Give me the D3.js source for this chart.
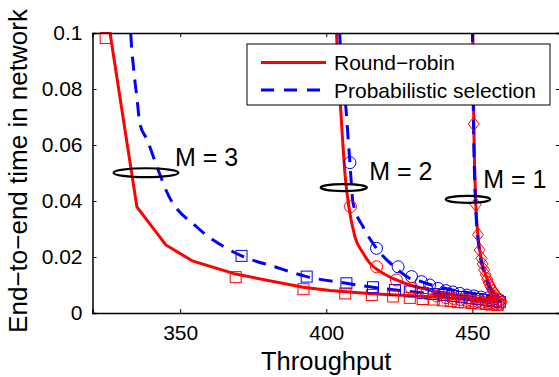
<!DOCTYPE html>
<html>
<head>
<meta charset="utf-8">
<script src="https://cdn.jsdelivr.net/npm/d3@7"></script>
<style>
  body { margin: 0; background: #fff; }
  text { font-family: "Liberation Sans", Arial, Helvetica, sans-serif; }
</style>
</head>
<body>
<div id="chart"></div>
<script>
// ---- data ----
let seriesNames = ["Round\u2212robin", "Probabilistic selection"];
let xTicks = [350, 400, 450];
let yTicks = [0, 0.02, 0.04, 0.06, 0.08, 0.1];
let yTickLabels = ["0", "0.02", "0.04", "0.06", "0.08", "0.1"];

// M = 3, lines and square markers
let rrLineM3 = [[325.5, 0.1034], [335.2, 0.0379], [345.1, 0.0243], [354.2, 0.0186], [369.0, 0.0139],
    [392.1, 0.0092], [401.3, 0.0080], [415.6, 0.0069], [435.4, 0.0058], [448.0, 0.0049], [460.0, 0.0040]];
let rrMarkM3 = [[324.5, 0.0982], [369.0, 0.0128], [392.2, 0.0085], [406.5, 0.0070], [415.6, 0.0064],
    [422.9, 0.0059], [428.6, 0.0054], [433.0, 0.0050], [436.8, 0.0048], [439.9, 0.0045], [442.6, 0.0043],
    [445.0, 0.0039], [447.4, 0.0038], [449.8, 0.0036], [452.2, 0.0034], [454.6, 0.0032], [456.6, 0.0030], [458.7, 0.0029]];
let psLineM3 = [[332.8, 0.108], [333.1, 0.1], [334.0, 0.088], [335.3, 0.076], [336.2, 0.0677], [338.7, 0.0618],
    [342.5, 0.051], [345.4, 0.0433], [355.6, 0.0308], [365.9, 0.0231], [371.0, 0.0204], [382.4, 0.0165],
    [393.3, 0.0130], [406.9, 0.0106], [416.0, 0.0092], [428.6, 0.0077], [440.2, 0.0064], [449.1, 0.0054], [460.0, 0.0039]];
let psMarkM3 = [[371.0, 0.0204], [393.3, 0.0130], [406.9, 0.0106], [416.0, 0.0092], [423.5, 0.0082], [428.6, 0.0077],
    [433.0, 0.0071], [436.8, 0.0068], [440.2, 0.0064], [443.3, 0.0061], [446.4, 0.0057], [449.1, 0.0054],
    [451.8, 0.0050], [454.6, 0.0046], [457.0, 0.0043], [459.4, 0.0039]];

// M = 2, lines and circle markers
let rrLineM2 = [[403.2, 0.108], [403.5, 0.1], [404.9, 0.0736], [406.6, 0.0475], [407.7, 0.0382], [409.8, 0.0273],
    [412.6, 0.0214], [414.9, 0.0178], [419.3, 0.0143], [424.0, 0.0118], [428.6, 0.0100], [435.4, 0.0082],
    [442.3, 0.0068], [449.1, 0.0057], [455.9, 0.0046], [460.0, 0.0039]];
let rrMarkM2 = [[408.3, 0.0380], [417.2, 0.0165], [424.0, 0.0118], [429.2, 0.0088], [434.3, 0.0070], [437.8, 0.0061],
    [440.9, 0.0055], [443.6, 0.0052], [446.0, 0.0048], [448.1, 0.0045], [450.1, 0.0043], [451.8, 0.0041],
    [453.5, 0.0039], [455.3, 0.0038], [456.6, 0.0036], [458.0, 0.0034], [459.4, 0.0032]];
let psLineM2 = [[404.3, 0.108], [404.6, 0.1], [406.7, 0.0736], [408.1, 0.0537], [409.2, 0.0392], [412.6, 0.0308],
    [417.2, 0.0231], [423.8, 0.0161], [428.6, 0.0124], [432.6, 0.0112], [436.0, 0.0100], [442.3, 0.0084],
    [449.1, 0.0071], [455.9, 0.0057], [460.0, 0.0050]];
let psMarkM2 = [[408.1, 0.0537], [417.2, 0.0231], [424.6, 0.0165], [429.2, 0.0130], [432.6, 0.0112], [435.4, 0.0100],
    [438.3, 0.0088], [440.9, 0.0080], [443.3, 0.0075], [445.7, 0.0070], [448.1, 0.0064], [450.5, 0.0061],
    [452.9, 0.0057], [455.3, 0.0054], [457.3, 0.0050], [459.4, 0.0046]];

// M = 1, lines and diamond markers
let rrLineM1 = [[450.05, 0.11], [450.5, 0.0675], [451.2, 0.0387], [451.9, 0.0280], [452.5, 0.0225], [453.5, 0.0175],
    [454.6, 0.0136], [455.6, 0.0107], [456.6, 0.0086], [457.6, 0.0070], [458.7, 0.0055], [459.7, 0.0045], [460.1, 0.0039]];
let rrMarkM1 = [[450.47, 0.0675], [451.16, 0.0387], [451.94, 0.0280], [452.52, 0.0225], [453.10, 0.0195],
    [453.55, 0.0175], [454.06, 0.0154], [454.57, 0.0136], [455.09, 0.0121], [455.60, 0.0107], [456.11, 0.0096],
    [456.63, 0.0086], [457.14, 0.0077], [457.65, 0.0070], [458.17, 0.0063], [458.68, 0.0055], [459.19, 0.0050],
    [459.71, 0.0045], [460.05, 0.0039]];
let psLineM1 = [[449.95, 0.11], [450.4, 0.0675], [451.1, 0.0390], [452.4, 0.0225], [453.9, 0.0150],
    [455.9, 0.0090], [458.3, 0.0055], [460.0, 0.0042]];

// annotations: ellipse centre / radii and label anchors, in data units
let groupLabels = ["M = 3", "M = 2", "M = 1"];
let ellipseCentres = [[338.3, 0.0501], [406.0, 0.0448], [448.5, 0.0406]];
let ellipseRadii = [[11.1, 0.0016], [7.9, 0.00125], [7.6, 0.00125]];
let labelAnchors = [[348.2, 0.0525], [414.7, 0.0475], [453.7, 0.0446]];

// ---- layout ----
let width = 559, height = 377;
let plot = {left: 92.5, right: 560, top: 33, bottom: 313};

let x = d3.scaleLinear().domain([320, 480]).range([plot.left, plot.right]);
let y = d3.scaleLinear().domain([0, 0.1]).range([plot.bottom, plot.top]);

let red = "#ff0000", blue = "#0000ff";

let svg = d3.select("#chart").append("svg")
    .attr("width", width)
    .attr("height", height);

svg.append("clipPath").attr("id", "clip")
    .append("rect")
    .attr("x", plot.left).attr("y", plot.top)
    .attr("width", plot.right - plot.left).attr("height", plot.bottom - plot.top);

let line = d3.line()
    .x(d => x(d[0]))
    .y(d => y(d[1]));
let smooth = d3.line()
    .x(d => x(d[0]))
    .y(d => y(d[1]))
    .curve(d3.curveMonotoneX);

let lines = svg.append("g").attr("clip-path", "url(#clip)");

// round-robin lines (solid red)
lines.append("path").datum(rrLineM3).attr("d", line)
    .attr("fill", "none").attr("stroke", red).attr("stroke-width", 3);
lines.append("path").datum(rrLineM2).attr("d", smooth)
    .attr("fill", "none").attr("stroke", red).attr("stroke-width", 3);
lines.append("path").datum(rrLineM1).attr("d", smooth)
    .attr("fill", "none").attr("stroke", red).attr("stroke-width", 3);

// probabilistic lines (dashed blue)
[psLineM3, psLineM2, psLineM1].forEach(function(s) {
    lines.append("path").datum(s).attr("d", smooth)
        .attr("fill", "none").attr("stroke", blue).attr("stroke-width", 3)
        .attr("stroke-dasharray", "14,9");
});

let marks = svg.append("g");

// blue markers first, red on top
marks.selectAll(".psSq").data(psMarkM3).enter().append("rect")
    .attr("x", d => x(d[0]) - 5.5).attr("y", d => y(d[1]) - 5.5)
    .attr("width", 11).attr("height", 11)
    .attr("fill", "none").attr("stroke", blue).attr("stroke-width", 1);
marks.selectAll(".psCi").data(psMarkM2).enter().append("circle")
    .attr("cx", d => x(d[0])).attr("cy", d => y(d[1])).attr("r", 6)
    .attr("fill", "none").attr("stroke", blue).attr("stroke-width", 1);

marks.selectAll(".rrSq").data(rrMarkM3).enter().append("rect")
    .attr("x", d => x(d[0]) - 5.5).attr("y", d => y(d[1]) - 5.5)
    .attr("width", 11).attr("height", 11)
    .attr("fill", "none").attr("stroke", red).attr("stroke-width", 1);
marks.selectAll(".rrCi").data(rrMarkM2).enter().append("circle")
    .attr("cx", d => x(d[0])).attr("cy", d => y(d[1])).attr("r", 6)
    .attr("fill", "none").attr("stroke", red).attr("stroke-width", 1);
marks.selectAll(".rrDi").data(rrMarkM1).enter().append("path")
    .attr("d", d => {
        let cx = x(d[0]), cy = y(d[1]);
        return "M" + cx + "," + (cy - 7) + "L" + (cx + 5.5) + "," + cy + "L" + cx + "," + (cy + 7) + "L" + (cx - 5.5) + "," + cy + "Z";
    })
    .attr("fill", "none").attr("stroke", red).attr("stroke-width", 1);

// ellipses and M labels
let ann = svg.append("g");
ellipseCentres.forEach(function(c, i) {
    ann.append("ellipse")
        .attr("cx", x(c[0])).attr("cy", y(c[1]))
        .attr("rx", x(c[0] + ellipseRadii[i][0]) - x(c[0]))
        .attr("ry", y(c[1] - ellipseRadii[i][1]) - y(c[1]))
        .attr("fill", "none").attr("stroke", "black").attr("stroke-width", 2.2);
    ann.append("text")
        .attr("x", x(labelAnchors[i][0])).attr("y", y(labelAnchors[i][1]))
        .attr("font-size", 25)
        .attr("fill", "black")
        .text(groupLabels[i]);
});

// axes box with inward ticks on all sides
let axes = svg.append("g");
axes.append("g")
    .attr("transform", "translate(0," + plot.bottom + ")")
    .call(d3.axisBottom(x).tickValues(xTicks).tickSize(-4).tickPadding(12).tickFormat(d3.format("d")));
axes.append("g")
    .attr("transform", "translate(0," + plot.top + ")")
    .call(d3.axisTop(x).tickValues(xTicks).tickSize(-4).tickFormat(""));
axes.append("g")
    .attr("transform", "translate(" + plot.left + ",0)")
    .call(d3.axisLeft(y).tickValues(yTicks).tickSize(-4).tickPadding(10)
        .tickFormat((d, i) => yTickLabels[i]));
axes.append("g")
    .attr("transform", "translate(" + plot.right + ",0)")
    .call(d3.axisRight(y).tickValues(yTicks).tickSize(-4).tickFormat(""));

axes.selectAll(".domain").attr("stroke", "black").attr("stroke-width", 1.5);
axes.selectAll(".tick line").attr("stroke", "black").attr("stroke-width", 1);
axes.selectAll(".tick text")
    .attr("fill", "black")
    .style("font-family", "'Liberation Sans', Arial, sans-serif")
    .style("font-size", "21px");

// axis titles
svg.append("text")
    .attr("x", (plot.left + plot.right) / 2)
    .attr("y", 370)
    .attr("text-anchor", "middle")
    .attr("font-size", 25.5)
    .text("Throughput");
svg.append("text")
    .attr("transform", "rotate(-90)")
    .attr("x", -171)
    .attr("y", 27)
    .attr("text-anchor", "middle")
    .attr("font-size", 26)
    .text("End\u2212to\u2212end time in network");

// legend
let leg = svg.append("g");
leg.append("rect")
    .attr("x", 247).attr("y", 44).attr("width", 303).attr("height", 61)
    .attr("fill", "white").attr("stroke", "black").attr("stroke-width", 1);
let legY = [62.5, 90];
seriesNames.forEach(function(name, i) {
    leg.append("line")
        .attr("x1", 261).attr("x2", 326).attr("y1", legY[i]).attr("y2", legY[i])
        .attr("stroke", i === 0 ? red : blue).attr("stroke-width", 3)
        .attr("stroke-dasharray", i === 0 ? null : "13,10");
    leg.append("text")
        .attr("x", 334).attr("y", legY[i] + 7.5)
        .attr("font-size", 21)
        .text(name);
});
</script>
</body>
</html>
